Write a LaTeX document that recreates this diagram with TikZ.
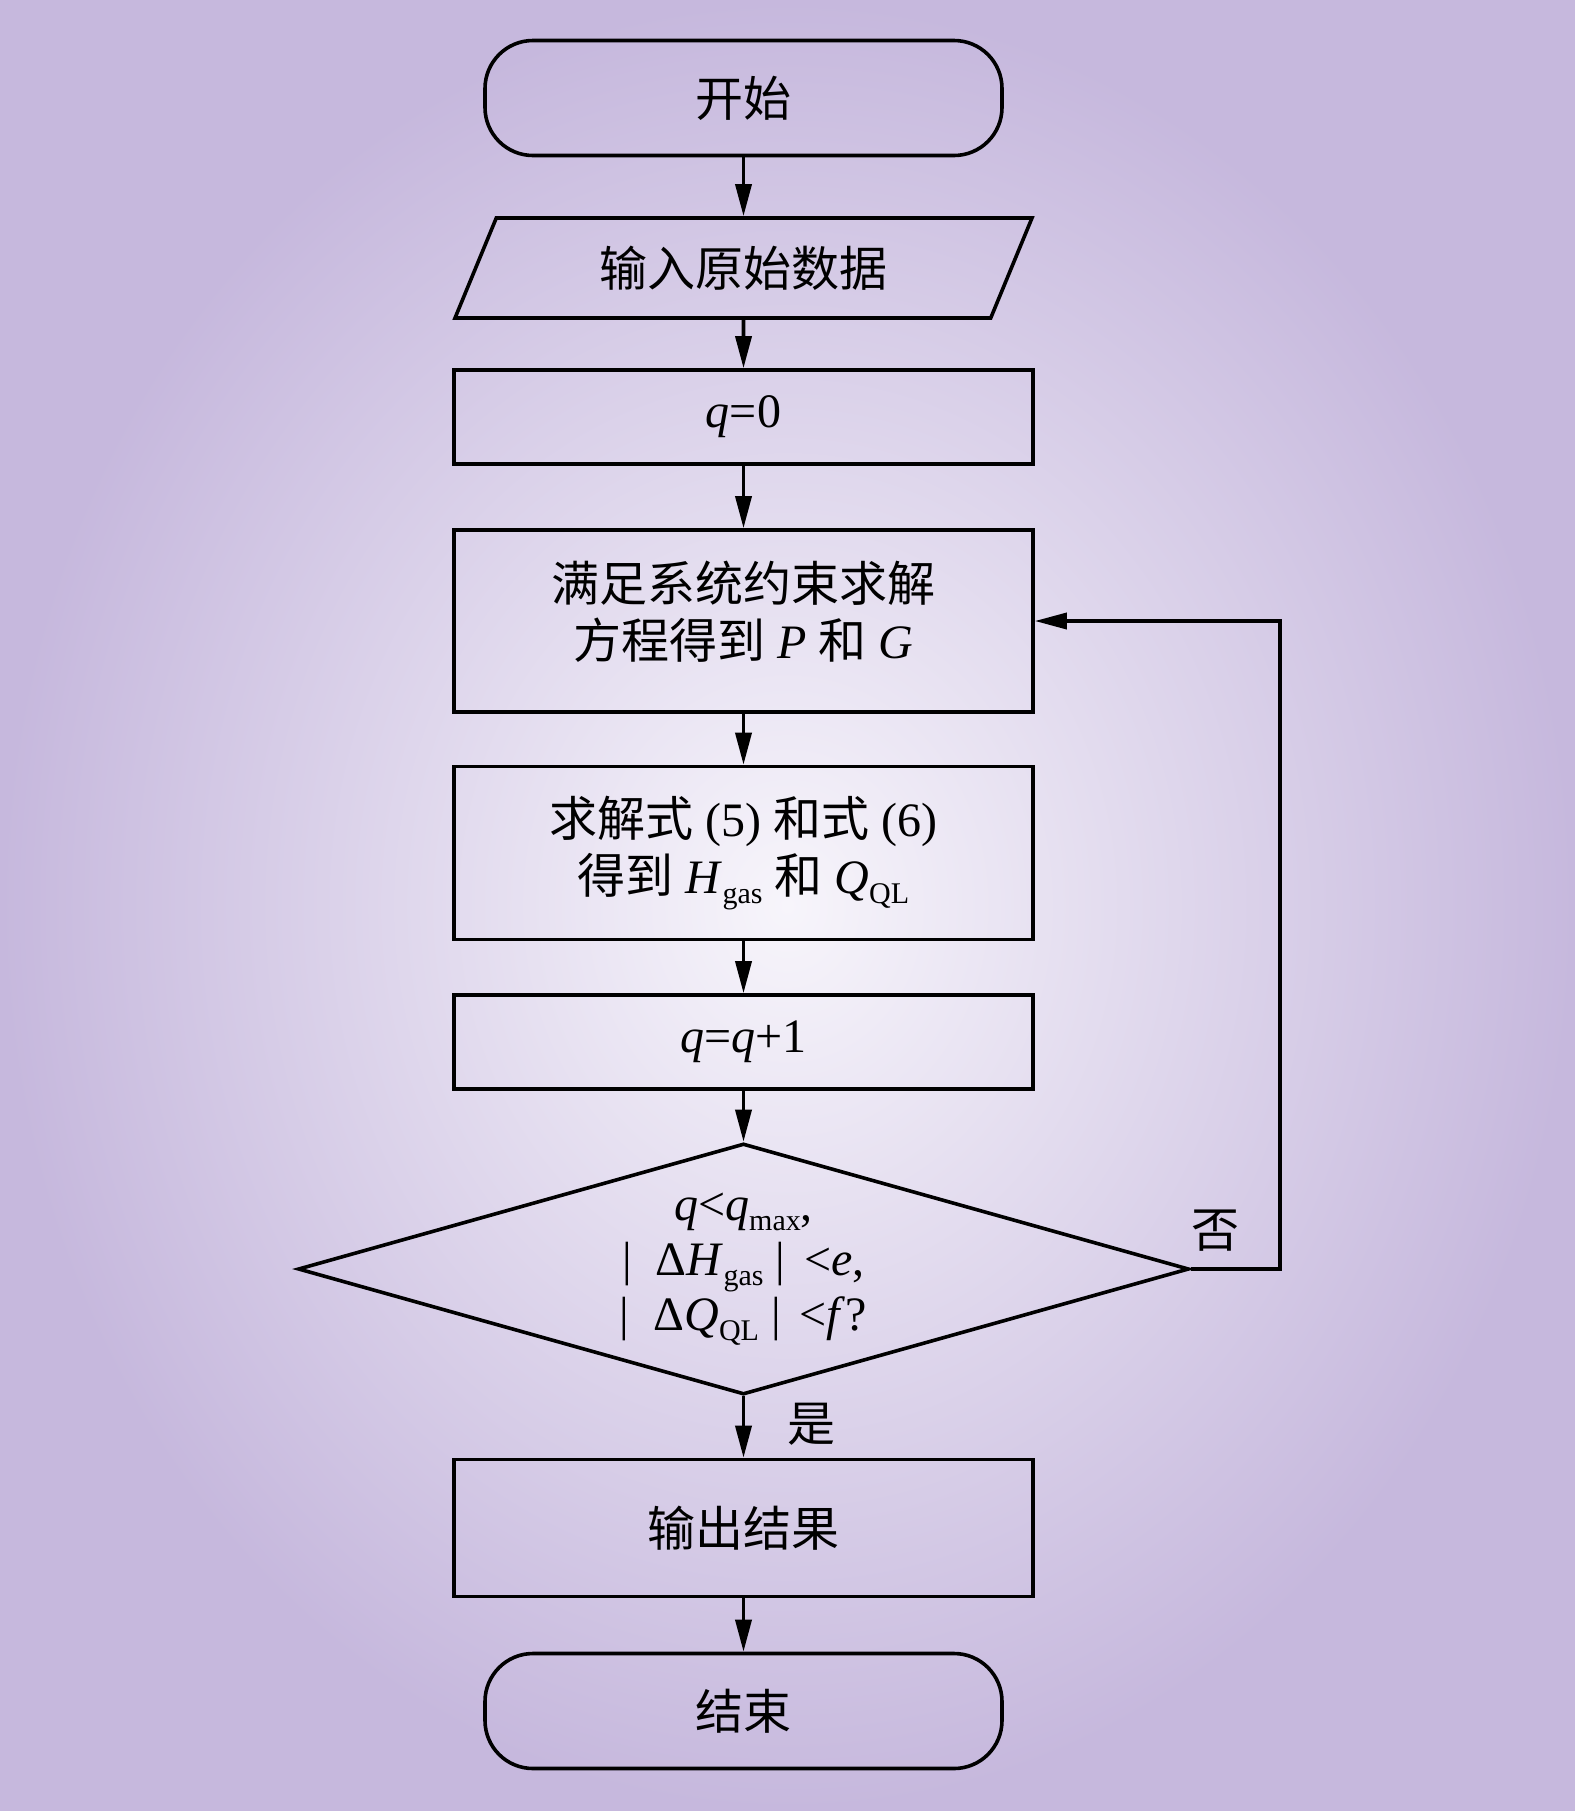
\documentclass[tikz,border=0pt]{standalone}
\usepackage{fontspec}
\setmainfont{Liberation Serif}
\newfontfamily\cjk{Noto Sans CJK SC}
\usetikzlibrary{shapes.geometric,arrows.meta}

\definecolor{bgin}{RGB}{247,245,251}
\definecolor{bgout}{RGB}{198,184,221}
\newcommand{\sub}[1]{\raisebox{-0.45ex}{\fontsize{15}{15}\selectfont #1}}
\newcommand{\zh}[1]{{\cjk #1}}

\tikzset{
  box/.style={draw, line width=1.8pt, rectangle, minimum width=289.5pt, inner sep=0pt, align=center},
  term/.style={draw, line width=1.8pt, rounded corners=24pt, minimum width=258.5pt, minimum height=57.5pt},
  io/.style={draw, line width=1.8pt, trapezium, trapezium left angle=61.6, trapezium right angle=118.4,
    trapezium stretches=true, minimum width=288.5pt, minimum height=50pt, inner sep=0pt},
  cond/.style={draw, line width=1.8pt, diamond, aspect=3.55, minimum width=445.5pt, minimum height=125.5pt,
    inner sep=0pt, align=center, font=\fontsize{24}{27.5}\selectfont},
  arr/.style={-{Triangle[length=16pt,width=8pt]}, line width=1.8pt}
}

\begin{document}
\begin{tikzpicture}[x=0.5pt,y=-0.5pt,font=\fontsize{24}{28.5}\selectfont]
  % background
  \shade[inner color=bgin, outer color=bgout] (0,0) rectangle (1575,1811);
  \useasboundingbox (0,0) rectangle (1575,1811);

  % boxes
  \node[term] (start) at (743.5,98) {\zh{开始}};
  \node[io] (input) at (743.5,268) {\zh{输入原始数据}};
  \node[box, minimum height=47pt] (init) at (743.5,417) {\textit{q}=0};
  \node[box, minimum height=91pt] (sys) at (743.5,621) {};
  \node[align=center] (systext) at (743.5,612)
    {\zh{满足系统约束求解}\\\zh{方程得到} \textit{P} \zh{和} \textit{G}};
  \node[box, minimum height=86.5pt] (solve) at (743.5,853)
    {\zh{求解式} (5) \zh{和式} (6)\\\zh{得到} \textit{H}\sub{gas} \zh{和} \textit{Q}\sub{QL}};
  \node[box, minimum height=47pt] (inc) at (743.5,1042) {\textit{q}=\textit{q}+1};
  \node[cond] (check) at (743.5,1269)
    {\textit{q}<\textit{q}\sub{max},\\
     |\hspace{0.5em}Δ\textit{H}\sub{gas}\hspace{0.25em}|\hspace{0.4em}<\textit{e},\\
     |\hspace{0.5em}Δ\textit{Q}\sub{QL}\hspace{0.25em}|\hspace{0.4em}<\textit{f}?};
  \node[box, minimum height=68.5pt] (out) at (743.5,1528) {\zh{输出结果}};
  \node[term] (stop) at (743.5,1711) {\zh{结束}};

  % lines
  \draw[arr] (start) -- (input);
  \draw[arr] (input) -- (init);
  \draw[arr] (init) -- (sys);
  \draw[arr] (sys) -- (solve);
  \draw[arr] (solve) -- (inc);
  \draw[arr] (inc) -- (check);
  \draw[arr] (check) -- (out);
  \draw[arr] (out) -- (stop);
  \draw[arr] (check.east) -- ++(89,0) coordinate (back) |- (sys.east);

  % labels
  \node (no) at (1215,1231) {\zh{否}};
  \node (yes) at (811,1424) {\zh{是}};
\end{tikzpicture}
\end{document}
